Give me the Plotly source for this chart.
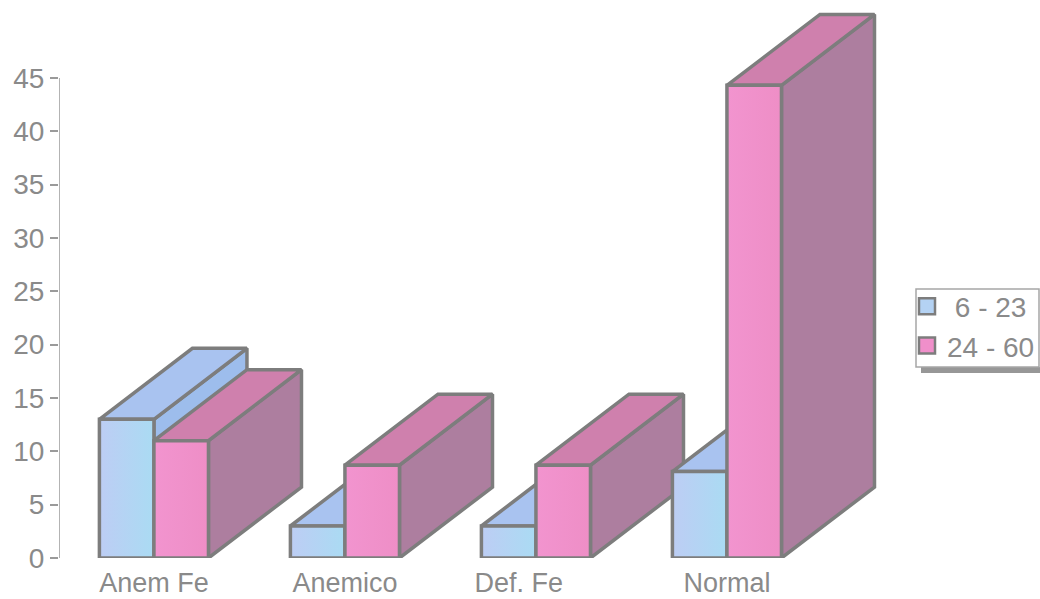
import plotly.graph_objects as go

categories = ["Anem Fe", "Anemico", "Def. Fe", "Normal"]
series_names = ["6 - 23", "24 - 60"]
values_young = [13, 3, 3, 8.1]
values_old = [11, 8.7, 8.7, 44.3]
y_ticks = [0, 5, 10, 15, 20, 25, 30, 35, 40, 45]
label_positions = [0, 1, 1.91, 3]

BAR_W = 0.2855
DEPTH_X = 0.487
DEPTH_Y = 6.65
X_MIN, X_MAX = -0.497, 4.639
EDGE = "#7d7d7d"
TEXT = "#8a8a8a"
AXIS = "#9a9a9a"

styles = {
    "6 - 23": dict(front="#b4d2f3", top="#a9c3f0", side="#9dbdec", offset=-1,
                   grad=[[0, "#bdcdf4"], [1, "#aadbf3"]]),
    "24 - 60": dict(front="#f08fca", top="#cf80ad", side="#ad7e9f", offset=0,
                    grad=[[0, "#f294cf"], [1, "#ee8ec6"]]),
}

fig = go.Figure()


def face(xs, ys, color, name, grad=None):
    extra = {"fillgradient": dict(type="horizontal", colorscale=grad)} if grad else {"fillcolor": color}
    fig.add_trace(go.Scatter(
        x=xs + xs[:1], y=ys + ys[:1], mode="lines", fill="toself",
        line=dict(color=EDGE, width=3.5), name=name,
        showlegend=False, hoverinfo="skip", cliponaxis=False, **extra,
    ))


for i in range(len(categories)):
    for name, vals in zip(series_names, [values_young, values_old]):
        st = styles[name]
        v = vals[i]
        x0 = i + st["offset"] * BAR_W
        x1 = x0 + BAR_W
        # side, top and front faces, back to front, so nearer faces cover farther ones
        face([x1, x1 + DEPTH_X, x1 + DEPTH_X, x1],
             [0, DEPTH_Y, v + DEPTH_Y, v], st["side"], name)
        face([x0, x0 + DEPTH_X, x1 + DEPTH_X, x1],
             [v, v + DEPTH_Y, v + DEPTH_Y, v], st["top"], name)
        face([x0, x1, x1, x0], [0, 0, v, v], st["front"], name, grad=st["grad"])

# value axis line, from 0 to the last tick only
fig.add_trace(go.Scatter(
    x=[X_MIN, X_MIN], y=[y_ticks[0], y_ticks[-1]], mode="lines",
    line=dict(color=AXIS, width=1.5), showlegend=False, hoverinfo="skip", cliponaxis=False,
))

# legend entries
for name, pad in zip(series_names, ["\u00a0", ""]):
    fig.add_trace(go.Scatter(
        x=[None], y=[None], mode="markers", name=pad + name, legendgroup=name,
        marker=dict(symbol="square", size=16, color=styles[name]["front"],
                    line=dict(color=EDGE, width=2.5)),
    ))

W, H, L, B = 1040, 599, 59, 41


def px(v):
    return (v - L) / (W - L)


def py(v):
    return (H - B - v) / (H - B)


fig.update_layout(
    width=W, height=H, autosize=False,
    margin=dict(l=L, r=0, t=0, b=B),
    paper_bgcolor="white", plot_bgcolor="white",
    font=dict(family="Liberation Sans, Arial, sans-serif", color=TEXT),
    xaxis=dict(range=[X_MIN, X_MAX], tickmode="array", tickvals=label_positions,
               ticktext=categories, showgrid=False, zeroline=False, showline=False,
               automargin=False,
               ticks="", tickfont=dict(size=27, color=TEXT), ticklabelstandoff=6),
    yaxis=dict(range=[0, 52.3], tickmode="array", tickvals=y_ticks, showgrid=False,
               zeroline=False, showline=False, automargin=False,
               ticks="outside", ticklen=8, tickwidth=1.5, tickcolor=AXIS,
               tickfont=dict(size=28, color=TEXT), ticklabelstandoff=0),
    legend=dict(x=1.0, xanchor="right", y=py(326), yref="paper", yanchor="middle",
                bgcolor="rgba(0,0,0,0)", borderwidth=0,
                font=dict(size=28, color=TEXT), itemwidth=30, tracegroupgap=0),
    shapes=[
        dict(type="rect", xref="paper", yref="paper", x0=px(921), x1=px(1040),
             y0=py(373), y1=py(367), fillcolor="#979797", line=dict(width=0), layer="below"),
        dict(type="rect", xref="paper", yref="paper", x0=px(916), x1=px(1039),
             y0=py(367), y1=py(289), fillcolor="white", line=dict(color="#a6a6a6", width=1.5),
             layer="below"),
    ],
)
fig.write_html("out.html", post_script="document.body.style.margin='0';",
               config={"displayModeBar": False})
